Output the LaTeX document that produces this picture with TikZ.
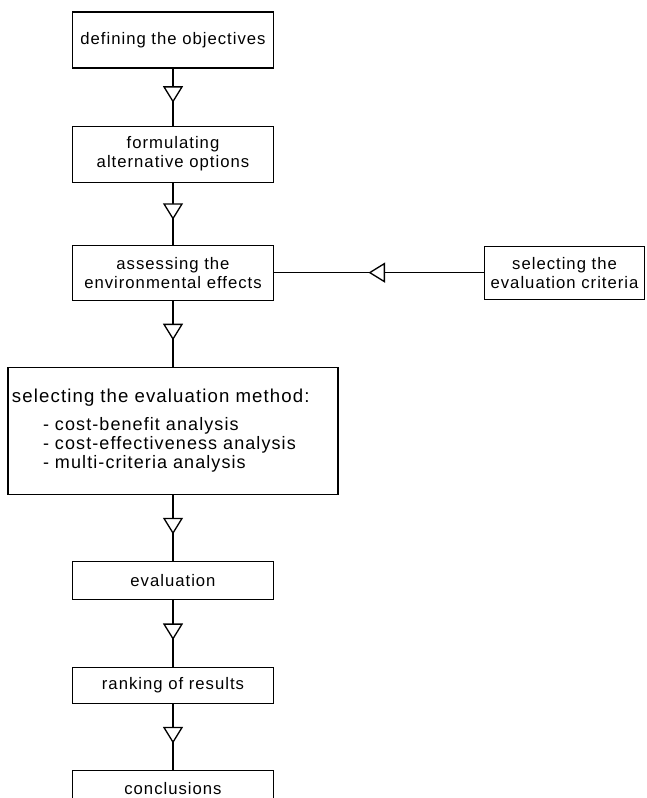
\documentclass[tikz,border=0pt]{standalone}
\usepackage{fontspec}
\setmainfont{Liberation Sans}[LetterSpace=6]
\usetikzlibrary{arrows.meta, positioning, decorations.markings}

\begin{document}
\begin{tikzpicture}[
        node distance=1.3cm and 4.2cm,
        box/.style={rectangle, draw=black, line width=0.6pt, minimum width=4.02cm, inner sep=0.08cm, align=center, font=\fontsize{9.5}{10.8}\selectfont},
        flow/.style={line width=0.75pt, decoration={markings, mark=at position #1 with {\arrow{Triangle[length=0.33cm, width=0.4cm, fill=white]}}}, postaction={decorate}},
        flow/.default=0.6
    ]
        \useasboundingbox (0,0) rectangle (12.92,-15.96);

        % Nodes
        \node[box, minimum height=1.12cm] (objectives) at (3.46,-0.8) {defining the objectives};
        \node[box, minimum height=1.12cm, below=1.14cm of objectives] (options) {formulating\\alternative options};
        \node[box, minimum height=1.1cm, below=1.24cm of options] (effects) {assessing the\\environmental effects};
        \node[box, minimum height=1.06cm, minimum width=3.2cm, right=of effects] (criteria) {selecting the\\evaluation criteria};
        \node[box, minimum height=2.54cm, text width=6.44cm, align=left, font=\fontsize{10.25}{10.8}\selectfont, below=1.32cm of effects] (method)
            {{\fontsize{10.6}{10.8}\selectfont selecting the evaluation method:}\\[5pt]
             \hspace*{0.62cm}- cost-benefit analysis\\
             \hspace*{0.62cm}- cost-effectiveness analysis\\
             \hspace*{0.62cm}- multi-criteria analysis};
        \node[box, minimum height=0.76cm, below=1.32cm of method] (evaluation) {evaluation};
        \node[box, minimum height=0.72cm, below=1.34cm of evaluation] (ranking) {ranking of results};
        \node[box, minimum height=0.74cm, below=1.32cm of ranking] (conclusions) {conclusions};

        % Arrows
        \draw[flow] (objectives) -- (options);
        \draw[flow] (options) -- (effects);
        \draw[flow=0.55] (criteria) -- (effects);
        \draw[flow] (effects) -- (method);
        \draw[flow] (method) -- (evaluation);
        \draw[flow] (evaluation) -- (ranking);
        \draw[flow] (ranking) -- (conclusions);
    \end{tikzpicture}
\end{document}
